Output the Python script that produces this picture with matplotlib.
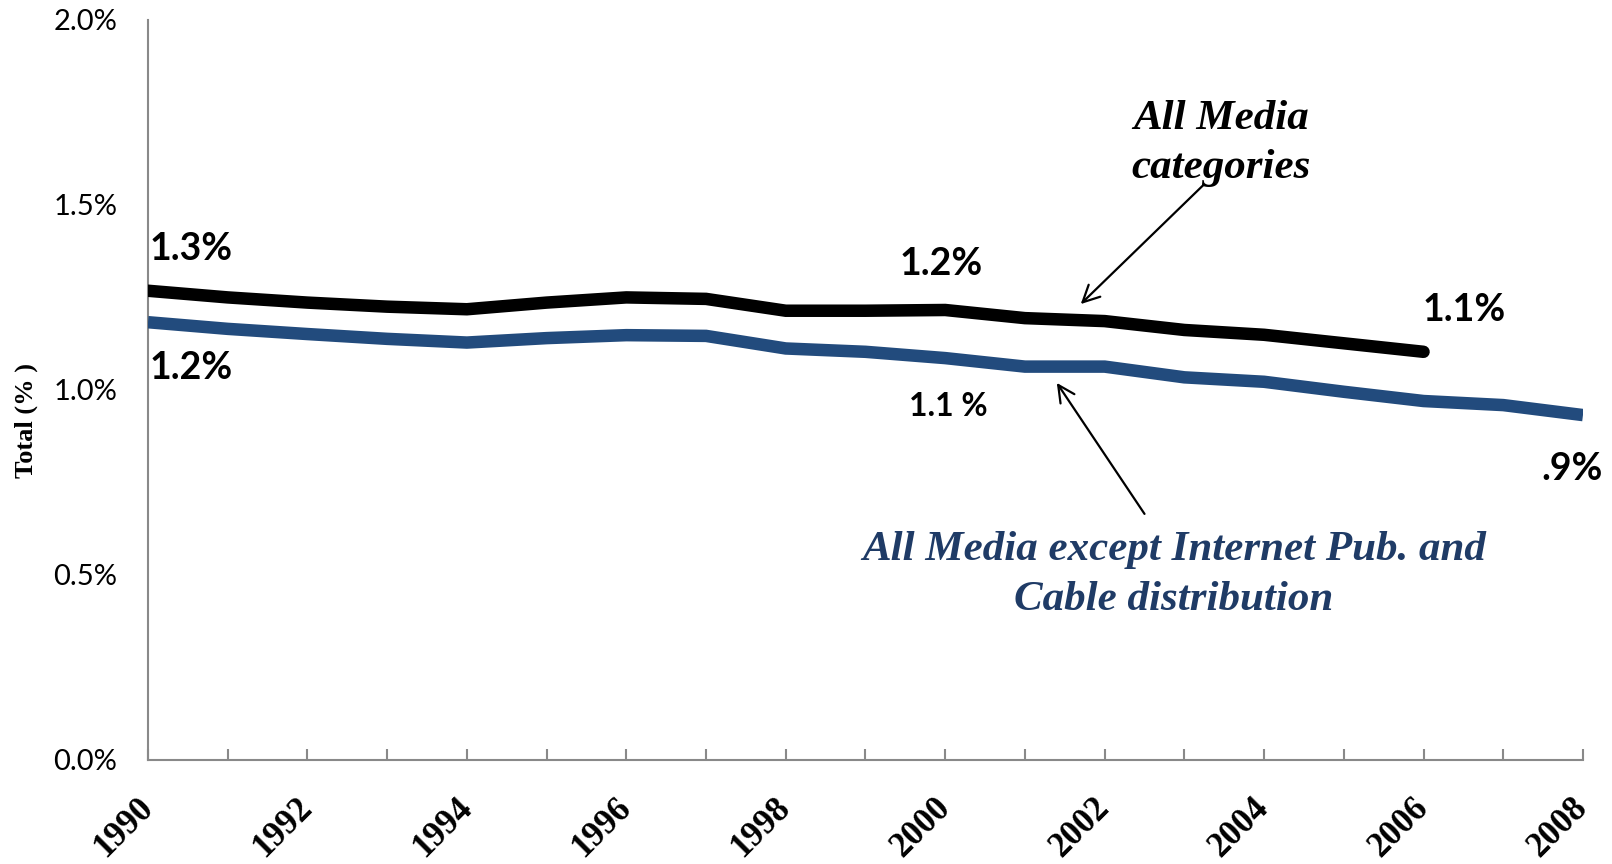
import matplotlib
matplotlib.use("Agg")
import matplotlib.pyplot as plt
from matplotlib import font_manager
from matplotlib.ticker import FuncFormatter

# data (percent)
years = list(range(1990, 2009))
all_media = [1.268, 1.250, 1.236, 1.225, 1.218, 1.236, 1.250, 1.246, 1.214,
             1.214, 1.216, 1.194, 1.186, 1.162, 1.149, 1.126, 1.103]
except_internet = [1.183, 1.165, 1.151, 1.138, 1.128, 1.140, 1.148, 1.146, 1.112,
                   1.103, 1.086, 1.063, 1.063, 1.034, 1.022, 0.995, 0.970, 0.959, 0.932]
ytick_vals = [0.0, 0.5, 1.0, 1.5, 2.0]

BLUE = "#224B7D"
BLUE_TXT = "#1F3B66"
GREY = "#898989"


def serif_font(name, fallback_style, fallback_weight):
    # pick the Liberation Serif file directly so bold italic really is Times-like
    for f in font_manager.findSystemFonts():
        if f.endswith(name):
            return font_manager.FontProperties(fname=f)
    return font_manager.FontProperties(family="Liberation Serif",
                                       style=fallback_style, weight=fallback_weight)


serif_bi = serif_font("LiberationSerif-BoldItalic.ttf", "italic", "bold")
serif_b = serif_font("LiberationSerif-Bold.ttf", "normal", "bold")

fig = plt.figure(figsize=(16.12, 8.64), dpi=100)
ax = fig.add_axes([0.0918, 0.1204, 0.8902, 0.8566])

ax.plot(years[:len(all_media)], all_media, color="black", lw=9,
        solid_capstyle="round", solid_joinstyle="miter", zorder=3)
ax.plot(years, except_internet, color=BLUE, lw=9,
        solid_capstyle="butt", solid_joinstyle="miter", zorder=3)

ax.set_xlim(1990, 2008)
ax.set_ylim(0, 2.0)

# axes look
for s in ["top", "right"]:
    ax.spines[s].set_visible(False)
for s in ["left", "bottom"]:
    ax.spines[s].set_color(GREY)
    ax.spines[s].set_linewidth(1.5)

ax.set_yticks(ytick_vals)
ax.yaxis.set_major_formatter(FuncFormatter(lambda v, p: "%.1f%%" % v))
ax.tick_params(axis="y", length=0, pad=22, labelsize=21, labelfontfamily="Lato")

ax.set_xticks(years)
ax.tick_params(axis="x", direction="in", length=8, width=1.5, color=GREY, pad=31)
xfp = serif_b.copy()
xfp.set_size(25)
ax.set_xticklabels([str(y) if y % 2 == 0 else "" for y in years],
                   fontproperties=xfp, rotation=45, ha="right", va="center",
                   rotation_mode="anchor")

yfp = serif_b.copy()
yfp.set_size(19)
fig.text(0.016, 0.513, "Total (% )", rotation=90, ha="center", va="center",
         fontproperties=yfp)

# value labels
num = dict(fontweight="bold", family="Lato", color="black")
ax.annotate("1.3%", (1990, all_media[0]), xytext=(1, 30), textcoords="offset points",
            ha="left", va="center", fontsize=27, **num)
ax.annotate("1.2%", (1990, except_internet[0]), xytext=(1, -33), textcoords="offset points",
            ha="left", va="center", fontsize=27, **num)
ax.annotate("1.2%", (2000, all_media[10]), xytext=(-3, 33), textcoords="offset points",
            ha="center", va="center", fontsize=27, **num)
ax.annotate("1.1%", (2006, all_media[16]), xytext=(29, 30), textcoords="offset points",
            ha="center", va="center", fontsize=27, **num)
ax.annotate("1.1 %", (2000, except_internet[10]), xytext=(2, -35), textcoords="offset points",
            ha="center", va="center", fontsize=23, **num)
ax.annotate(".9%", (2008, except_internet[18]), xytext=(-8, -39), textcoords="offset points",
            ha="center", va="center", fontsize=27, **num)

# series labels with arrows
lfp = serif_bi.copy()
lfp.set_size(31)
ax.annotate("", xy=(2001.7, 1.232), xytext=(2003.24, 1.554),
            arrowprops=dict(arrowstyle="->", color="black", lw=1.6,
                            mutation_scale=30, shrinkA=0, shrinkB=0))
ax.text(2003.46, 1.667, "All Media\ncategories", ha="center", va="center",
        fontproperties=lfp, linespacing=1.38)

ax.annotate("", xy=(2001.4, 1.019), xytext=(2002.5, 0.665),
            arrowprops=dict(arrowstyle="->", color="black", lw=1.6,
                            mutation_scale=30, shrinkA=0, shrinkB=0))
ax.text(2002.87, 0.50, "All Media except Internet Pub. and\nCable distribution",
        ha="center", va="center", fontproperties=lfp, color=BLUE_TXT, linespacing=1.42)

fig.savefig("out.png", dpi=100)
